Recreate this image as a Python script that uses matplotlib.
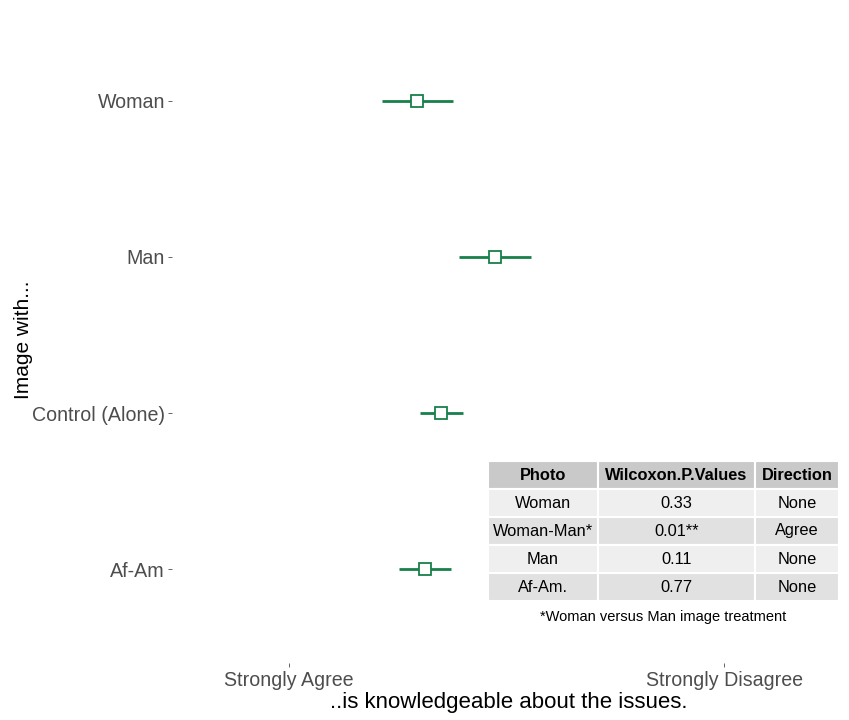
import matplotlib.pyplot as plt

plt.rcParams['font.family'] = ['Liberation Sans', 'DejaVu Sans']

# data
groups = ["Af-Am", "Control (Alone)", "Man", "Woman"]
means = [2.25, 2.40, 2.89, 2.18]
errs = [0.24, 0.20, 0.33, 0.33]

tick_pos = [1, 5]
tick_labels = ["Strongly Agree", "Strongly Disagree"]

tbl_cols = ["Photo", "Wilcoxon.P.Values", "Direction"]
tbl_rows = [["Woman", "0.33", "None"],
            ["Woman-Man*", "0.01**", "Agree"],
            ["Man", "0.11", "None"],
            ["Af-Am.", "0.77", "None"]]
tbl_note = "*Woman versus Man image treatment"

green = "#18804a"

fig = plt.figure(figsize=(8.49, 7.2), dpi=100)
ax = fig.add_axes([172 / 849, 1 - 663 / 720, (845 - 172) / 849, (663 - 7) / 720])

ypos = range(len(groups))
ax.errorbar(means, ypos, xerr=errs, fmt="none", ecolor=green, elinewidth=2, capsize=0)
ax.plot(means, ypos, "s", ms=9, mfc="white", mec=green, mew=1.3)

ax.set_xlim(-0.076, 6.11)
ax.set_ylim(-0.6, len(groups) - 0.4)
ax.set_yticks(list(ypos))
ax.set_yticklabels(groups)
ax.set_xticks(tick_pos)
ax.set_xticklabels(tick_labels)
ax.tick_params(axis="both", colors="#4d4d4d", labelsize=14.1, length=3, width=0.6)
ax.tick_params(axis="y", pad=2)
ax.tick_params(axis="x", pad=3)
for s in ax.spines.values():
    s.set_visible(False)
ax.set_xlabel("..is knowledgeable about the issues.", fontsize=16, labelpad=1)
ax.set_ylabel("Image with...", fontsize=15)
ax.yaxis.set_label_coords(-0.207, 0.492)

# summary table
tax = fig.add_axes([488 / 849, 1 - 601 / 720, (839 - 488) / 849, (601 - 461) / 720])
tax.axis("off")
tb = tax.table(cellText=tbl_rows, colLabels=tbl_cols, loc="center", bbox=[0, 0, 1, 1],
               cellLoc="center", colWidths=[110, 157, 84])
tb.auto_set_font_size(False)
for (r, c), cell in tb.get_celld().items():
    cell.set_edgecolor("white")
    cell.set_linewidth(1.5)
    cell.set_text_props(fontsize=11.8, color="black")
    if r == 0:
        cell.set_facecolor("#c9c9c9")
        cell.set_text_props(fontweight="bold")
    elif r % 2 == 1:
        cell.set_facecolor("#efefef")
    else:
        cell.set_facecolor("#e1e1e1")
fig.text(663 / 849, 1 - 617 / 720, tbl_note, ha="center", va="center", fontsize=10.5)

fig.savefig("out.png", dpi=100)
